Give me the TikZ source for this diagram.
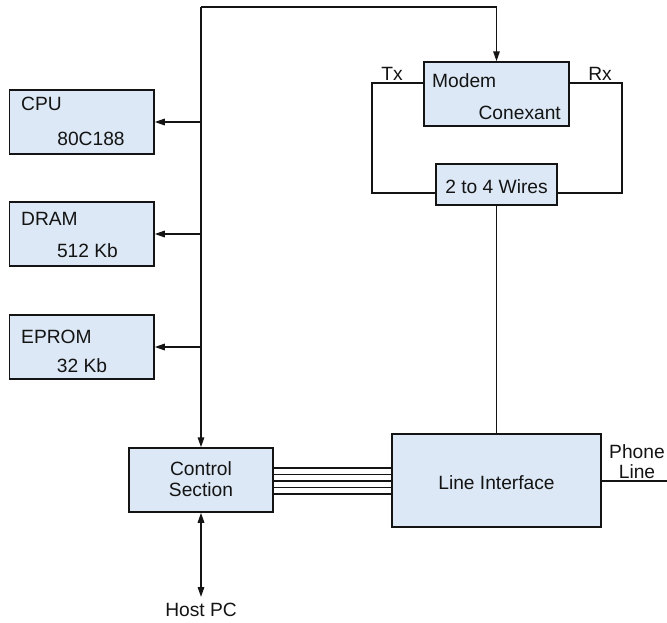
\documentclass[tikz,border=0pt]{standalone}
\usepackage{fontspec}
\setmainfont{Liberation Sans}
\usetikzlibrary{arrows.meta}
\definecolor{boxfill}{RGB}{220,232,245}
\definecolor{ink}{RGB}{20,20,20}
\tikzset{
  blk/.style={draw=ink, fill=boxfill, line width=1.5pt, inner sep=0pt},
  lbl/.style={inner sep=0pt, text=ink, font=\fontsize{19.2}{22}\selectfont},
  wire/.style={draw=ink, line width=1.5pt},
  thinwire/.style={draw=ink, line width=0.9pt},
  arr/.style={wire, -{Triangle[length=10pt,width=6.5pt]}},
  darr/.style={wire, {Triangle[length=10pt,width=6.5pt]}-{Triangle[length=10pt,width=6.5pt]}}
}
\begin{document}
\begin{tikzpicture}[x=1pt,y=-1pt]
\useasboundingbox (0,0) rectangle (667,622);
% boxes
\node[blk, minimum width=144.5pt, minimum height=64pt] (cpu) at (81.75,122) {};
\node[blk, minimum width=144.5pt, minimum height=64pt] (dram) at (81.75,234) {};
\node[blk, minimum width=144.5pt, minimum height=64pt] (eprom) at (81.75,347) {};
\node[blk, minimum width=145pt, minimum height=64pt] (modem) at (496.5,94) {};
\node[blk, minimum width=121pt, minimum height=41pt] (w24) at (496.5,184.5) {};
\node[blk, minimum width=144pt, minimum height=64pt] (control) at (201,480) {};
\node[blk, minimum width=209pt, minimum height=93pt] (li) at (496.5,480.5) {};
% texts
\node[lbl, anchor=west] (tcpu) at (21,104) {CPU};
\node[lbl] (tcpu2) at (91,139) {80C188};
\node[lbl, anchor=west] (tdram) at (21,219) {DRAM};
\node[lbl] (tdram2) at (87.5,251) {512 Kb};
\node[lbl, anchor=west] (teprom) at (21,337) {EPROM};
\node[lbl] (teprom2) at (82,366) {32 Kb};
\node[lbl, anchor=west] (tmodem) at (432,81) {Modem};
\node[lbl, anchor=east] (tconex) at (561,113) {Conexant};
\node[lbl] (tw24) at (496.5,187) {2 to 4 Wires};
\node[lbl] (tctrl1) at (201,469) {Control};
\node[lbl] (tctrl2) at (201,490) {Section};
\node[lbl] (tli) at (496.5,483) {Line Interface};
\node[lbl] (ttx) at (392,74) {Tx};
\node[lbl] (trx) at (600,74) {Rx};
\node[lbl] (tphone) at (637,452) {Phone};
\node[lbl] (tline) at (637,472) {Line};
\node[lbl] (thost) at (201,610) {Host PC};
% coordinates
\coordinate (bt) at (201,7);
\coordinate (mt) at (496.5,7);
\coordinate (txc) at (372,193);
\coordinate (rxc) at (622,193);
\coordinate (hostend) at (201,597);
\coordinate (phoneend) at (667,481);
% bus
\draw[wire] (bt) -- (mt);
\draw[arr] (mt) -- (modem.north);
\draw[arr] (bt) -- (control.north);
\draw[arr] (bt |- cpu.east) -- (cpu.east);
\draw[arr] (bt |- dram.east) -- (dram.east);
\draw[arr] (bt |- eprom.east) -- (eprom.east);
% Tx / Rx loop
\draw[wire] (modem.west |- 0,83) -| (txc) -- (w24.west |- txc);
\draw[wire] (modem.east |- 0,83) -| (rxc) -- (w24.east |- rxc);
% 2 to 4 wires to line interface
\draw[thinwire] (w24.south) -- (li.north);
% control to line interface bundle
\foreach \yy in {468,474.5,481,487.5,494}{
  \draw[wire] (control.east |- 0,\yy) -- (li.west |- 0,\yy);
}
% host PC
\draw[darr] (control.south) -- (hostend);
% phone line
\draw[wire] (li.east |- phoneend) -- (phoneend);
\end{tikzpicture}
\end{document}
